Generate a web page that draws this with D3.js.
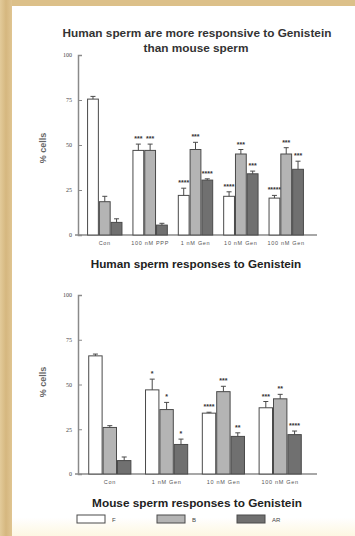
<!DOCTYPE html>
<html>
<head>
<meta charset="utf-8">
<script src="https://cdn.jsdelivr.net/npm/d3@7/dist/d3.min.js"></script>
<style>
  html, body { margin: 0; padding: 0; background: #fff; }
  svg { display: block; font-family: "Liberation Sans", Arial, sans-serif; }
</style>
</head>
<body>
<svg id="fig" width="355" height="536"></svg>
<script>
// ---- Data: % of cells in each CTC pattern (F, B, AR) ----
const seriesNames = ["F", "B", "AR"];

// Human sperm
const humanGroups = ["Con", "100 nM PPP", "1 nM Gen", "10 nM Gen", "100 nM Gen"];
const humanF     = [75.5, 47, 22, 21.5, 20.5];
const humanFErr  = [1.5, 3.5, 4, 2.5, 1.5];
const humanB     = [18.5, 47, 47.5, 45, 45];
const humanBErr  = [3, 3.5, 4, 2.5, 3.5];
const humanAR    = [7, 5.5, 30.5, 34, 36.5];
const humanARErr = [2, 1, 0.7, 1.5, 4.5];
const humanFSig  = ["", "***", "****", "****", "*****"];
const humanBSig  = ["", "***", "***", "***", "***"];
const humanARSig = ["", "", "****", "***", "***"];

// Mouse sperm
const mouseGroups = ["Con", "1 nM Gen", "10 nM Gen", "100 nM Gen"];
const mouseF     = [66, 47, 34, 37];
const mouseFErr  = [1, 6, 0.5, 3.5];
const mouseB     = [26, 36, 46, 42];
const mouseBErr  = [1, 4, 3, 2.5];
const mouseAR    = [7.5, 16.5, 21, 22];
const mouseARErr = [2, 3, 2, 2];
const mouseFSig  = ["", "*", "****", "***"];
const mouseBSig  = ["", "*", "***", "**"];
const mouseARSig = ["", "*", "**", "****"];

const yTicks = [0, 25, 50, 75, 100];
const yLabel = "% cells";

const fills = ["#ffffff", "#b4b4b4", "#707070"];

const svg = d3.select("#fig");

// ---- Page background: parchment edge and white sheet ----
const defs = svg.append("defs");
const tan = defs.append("linearGradient").attr("id", "tan").attr("x1", 0).attr("x2", 1);
tan.append("stop").attr("offset", "0%").attr("stop-color", "#e3cb9a");
tan.append("stop").attr("offset", "50%").attr("stop-color", "#d5b77f");
tan.append("stop").attr("offset", "100%").attr("stop-color", "#e0c592");
const sheet = defs.append("linearGradient").attr("id", "sheet").attr("x1", 0).attr("x2", 0).attr("y1", 0).attr("y2", 1);
sheet.append("stop").attr("offset", "0%").attr("stop-color", "#ffffff");
sheet.append("stop").attr("offset", "96.5%").attr("stop-color", "#ffffff");
sheet.append("stop").attr("offset", "100%").attr("stop-color", "#fdf7e2");

svg.append("rect").attr("width", 355).attr("height", 536).attr("fill", "#dcc089");
svg.append("rect").attr("width", 12).attr("height", 536).attr("fill", "url(#tan)");
svg.append("rect").attr("x", 12).attr("y", 6).attr("width", 343).attr("height", 530).attr("fill", "url(#sheet)");

// ---- Grouped bar chart with error bars and significance marks ----
function drawPanel(opts) {
  const { groups, values, errs, sigs, xRange, yRange, padIn, padOut, axisEnd, labelY } = opts;
  const g = svg.append("g");

  const x0 = d3.scaleBand().domain(groups).range(xRange).paddingInner(padIn).paddingOuter(padOut);
  const x1 = d3.scaleBand().domain(seriesNames).range([0, x0.bandwidth()]);
  const y = d3.scaleLinear().domain([0, 100]).range(yRange);

  // axes
  const yAxis = g.append("g").attr("transform", `translate(${xRange[0]},0)`)
    .call(d3.axisLeft(y).tickValues(yTicks).tickSize(-4).tickPadding(6));
  yAxis.select(".domain").attr("stroke", "#8a8a8a").attr("stroke-width", 1.5);
  yAxis.selectAll(".tick line").attr("stroke", "#8a8a8a");
  yAxis.selectAll(".tick text").attr("font-size", 6).attr("fill", "#444")
    .attr("font-family", "Liberation Serif, serif");

  g.append("line")
    .attr("x1", xRange[0] - 3).attr("x2", axisEnd)
    .attr("y1", y(0)).attr("y2", y(0))
    .attr("stroke", "#8a8a8a").attr("stroke-width", 1.5);

  const xAxis = g.append("g").attr("transform", `translate(0,${y(0)})`)
    .call(d3.axisBottom(x0).tickSize(0).tickPadding(6));
  xAxis.select(".domain").remove();
  xAxis.selectAll(".tick text").attr("font-size", 5.5).attr("letter-spacing", 0.7).attr("fill", "#555");

  // y axis title
  g.append("text")
    .attr("transform", `translate(46,${labelY}) rotate(-90)`)
    .attr("text-anchor", "middle")
    .attr("font-size", 9).attr("font-weight", "bold").attr("fill", "#666")
    .text(yLabel);

  // bars
  const rows = [];
  groups.forEach((grp, i) => {
    seriesNames.forEach((s, j) => {
      rows.push({ grp, s, j, v: values[j][i], e: errs[j][i], sig: sigs[j][i] });
    });
  });

  const bar = g.selectAll(".bar").data(rows).join("g").attr("class", "bar")
    .attr("transform", d => `translate(${x0(d.grp) + x1(d.s)},0)`);

  bar.append("rect")
    .attr("x", 0.5)
    .attr("y", d => y(d.v))
    .attr("width", x1.bandwidth() - 1)
    .attr("height", d => y(0) - y(d.v))
    .attr("fill", d => fills[d.j])
    .attr("stroke", "#4a4a4a").attr("stroke-width", 1);

  const cx = x1.bandwidth() / 2;
  bar.append("line")
    .attr("x1", cx).attr("x2", cx)
    .attr("y1", d => y(d.v)).attr("y2", d => y(d.v + d.e))
    .attr("stroke", "#4a4a4a").attr("stroke-width", 1);
  bar.append("line")
    .attr("x1", cx - 2.5).attr("x2", cx + 2.5)
    .attr("y1", d => y(d.v + d.e)).attr("y2", d => y(d.v + d.e))
    .attr("stroke", "#4a4a4a").attr("stroke-width", 1);

  bar.append("text")
    .attr("x", cx)
    .attr("y", d => y(d.v + d.e) - 3)
    .attr("text-anchor", "middle")
    .attr("font-size", 7).attr("font-weight", "bold").attr("fill", "#333")
    .text(d => d.sig);
}

// Titles
svg.append("text").attr("x", 197).attr("y", 37).attr("text-anchor", "middle")
  .attr("font-size", 11.8).attr("font-weight", "bold").attr("fill", "#333")
  .text("Human sperm are more responsive to Genistein");
svg.append("text").attr("x", 196).attr("y", 52).attr("text-anchor", "middle")
  .attr("font-size", 11.8).attr("font-weight", "bold").attr("fill", "#333")
  .text("than mouse sperm");

drawPanel({
  groups: humanGroups,
  values: [humanF, humanB, humanAR],
  errs: [humanFErr, humanBErr, humanARErr],
  sigs: [humanFSig, humanBSig, humanARSig],
  xRange: [78, 313], yRange: [235, 55],
  padIn: 0.22, padOut: 0.2, axisEnd: 317, labelY: 148
});

svg.append("text").attr("x", 196).attr("y", 267.5).attr("text-anchor", "middle")
  .attr("font-size", 11.7).attr("font-weight", "bold").attr("fill", "#222")
  .text("Human sperm responses to Genistein");

drawPanel({
  groups: mouseGroups,
  values: [mouseF, mouseB, mouseAR],
  errs: [mouseFErr, mouseBErr, mouseARErr],
  sigs: [mouseFSig, mouseBSig, mouseARSig],
  xRange: [78, 312], yRange: [474, 295],
  padIn: 0.24, padOut: 0.18, axisEnd: 317, labelY: 382
});

svg.append("text").attr("x", 197).attr("y", 507).attr("text-anchor", "middle")
  .attr("font-size", 11.8).attr("font-weight", "bold").attr("fill", "#222")
  .text("Mouse sperm responses to Genistein");

// Legend
const legX = d3.scalePoint().domain(seriesNames).range([77, 237]);
const leg = svg.selectAll(".leg").data(seriesNames).join("g").attr("class", "leg")
  .attr("transform", d => `translate(${legX(d)},515)`);
leg.append("rect").attr("width", 28).attr("height", 8)
  .attr("fill", (d, i) => fills[i]).attr("stroke", "#4a4a4a").attr("stroke-width", 1);
leg.append("text").attr("x", 35).attr("y", 6.5)
  .attr("font-size", 6).attr("fill", "#444").text(d => d);
</script>
</body>
</html>
